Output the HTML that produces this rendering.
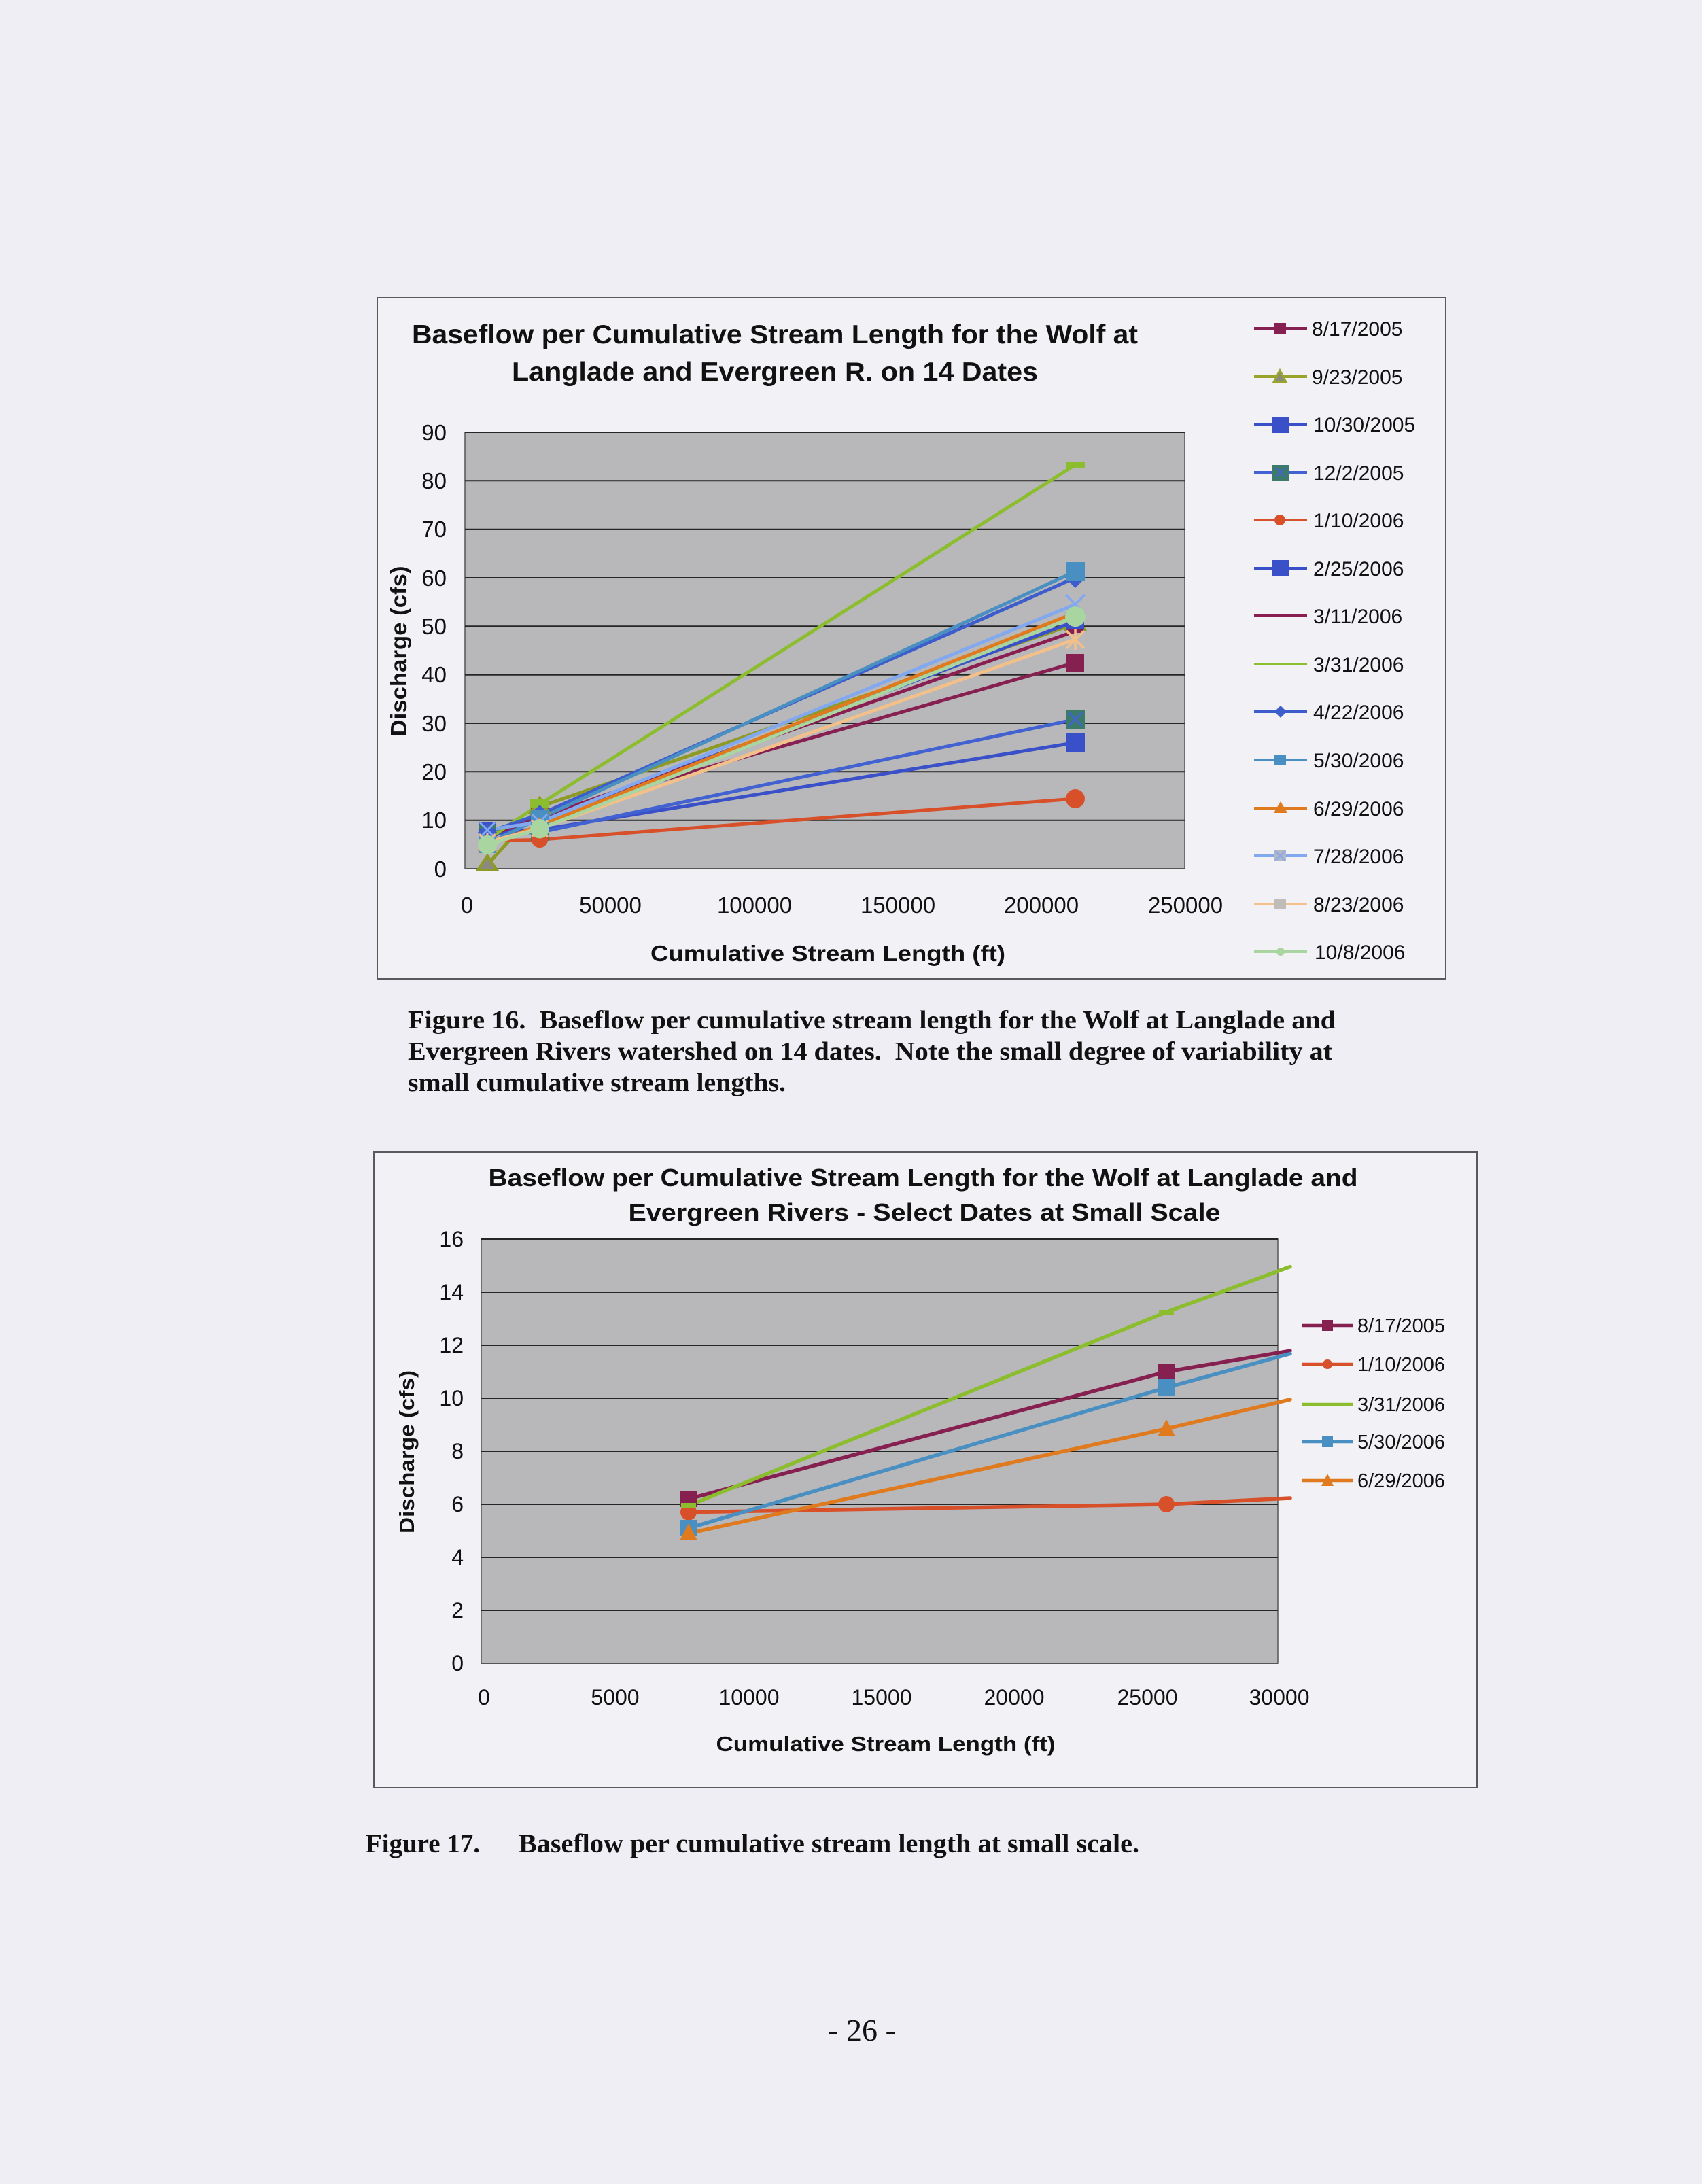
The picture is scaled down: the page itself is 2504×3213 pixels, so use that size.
<!DOCTYPE html>
<html>
<head>
<meta charset="utf-8">
<style>
html,body{margin:0;padding:0;background:#eeeef4;}
svg{display:block;}
.pre{white-space:pre;}
</style>
</head>
<body>
<svg xmlns="http://www.w3.org/2000/svg" width="2504" height="3213" viewBox="0 0 2504 3213">
<rect x="0" y="0" width="2504" height="3213" fill="#eeeef4"/>

<!-- ================= CHART 1 ================= -->
<rect x="555" y="438" width="1572" height="1002" fill="#f1f1f6" stroke="#5a5a5e" stroke-width="2"/>
<g font-family="'Liberation Sans', Arial, sans-serif" font-weight="bold" fill="#111">
  <text x="1140" y="505" font-size="39" text-anchor="middle" textLength="1068" lengthAdjust="spacingAndGlyphs">Baseflow per Cumulative Stream Length for the Wolf at</text>
  <text x="1140" y="560" font-size="39" text-anchor="middle" textLength="774" lengthAdjust="spacingAndGlyphs">Langlade and Evergreen R. on 14 Dates</text>
  <text x="1218" y="1414" font-size="33" text-anchor="middle" textLength="522" lengthAdjust="spacingAndGlyphs">Cumulative Stream Length (ft)</text>
  <text transform="translate(598,958) rotate(-90)" x="0" y="0" font-size="33" text-anchor="middle" textLength="251" lengthAdjust="spacingAndGlyphs">Discharge (cfs)</text>
</g>
<!-- plot area -->
<rect x="684" y="636" width="1059" height="642" fill="#b8b8bb" stroke="#555" stroke-width="1.5"/>
<g stroke="#262626" stroke-width="2">
  <line x1="684" y1="636" x2="1743" y2="636"/>
  <line x1="684" y1="707.3" x2="1743" y2="707.3"/>
  <line x1="684" y1="778.7" x2="1743" y2="778.7"/>
  <line x1="684" y1="850" x2="1743" y2="850"/>
  <line x1="684" y1="921.3" x2="1743" y2="921.3"/>
  <line x1="684" y1="992.7" x2="1743" y2="992.7"/>
  <line x1="684" y1="1064" x2="1743" y2="1064"/>
  <line x1="684" y1="1135.3" x2="1743" y2="1135.3"/>
  <line x1="684" y1="1206.7" x2="1743" y2="1206.7"/>
  <line x1="684" y1="1278" x2="1743" y2="1278" stroke="#555"/>
</g>
<!-- y tick labels -->
<g font-family="'Liberation Sans', Arial, sans-serif" font-size="33" fill="#111" text-anchor="end">
  <text x="657" y="648">90</text>
  <text x="657" y="719">80</text>
  <text x="657" y="790">70</text>
  <text x="657" y="862">60</text>
  <text x="657" y="933">50</text>
  <text x="657" y="1004">40</text>
  <text x="657" y="1076">30</text>
  <text x="657" y="1147">20</text>
  <text x="657" y="1218">10</text>
  <text x="657" y="1290">0</text>
</g>
<!-- x tick labels -->
<g font-family="'Liberation Sans', Arial, sans-serif" font-size="33" fill="#111" text-anchor="middle">
  <text x="687" y="1343">0</text>
  <text x="898" y="1343">50000</text>
  <text x="1110" y="1343">100000</text>
  <text x="1321" y="1343">150000</text>
  <text x="1532" y="1343">200000</text>
  <text x="1744" y="1343">250000</text>
</g>

<!-- series lines chart 1 -->
<g fill="none" stroke-width="5" stroke-linejoin="round" stroke-linecap="round">
  <polyline points="717,1233.8 794,1199.5 1582,974.8" stroke="#862050"/>
  <polyline points="717,1272.3 794,1186.7 1582,917.8" stroke="#8e9a26"/>
  <polyline points="717,1222.4 794,1220.9 1582,1092.5" stroke="#3a50c8"/>
  <polyline points="717,1225.9 794,1224.5 1582,1058.3" stroke="#4262d2"/>
  <polyline points="717,1237.3 794,1235.2 1582,1175.0" stroke="#d8502a"/>
  <polyline points="717,1231.6 794,1206.7 1582,914.2" stroke="#3a50c8"/>
  <polyline points="717,1229.5 794,1203.1 1582,928.5" stroke="#8a1e50"/>
  <polyline points="717,1235.2 794,1183.1 1582,683.8" stroke="#8cbd2e"/>
  <polyline points="717,1224.5 794,1198.1 1582,850.0" stroke="#3d5dcc"/>
  <polyline points="717,1241.6 794,1203.8 1582,840.7" stroke="#4a8fc2"/>
  <polyline points="717,1243.0 794,1214.5 1582,901.4" stroke="#e07a1e"/>
  <polyline points="717,1220.9 794,1209.5 1582,889.2" stroke="#82a8f0"/>
  <polyline points="717,1238.8 794,1218.8 1582,940.6" stroke="#f2c088"/>
  <polyline points="717,1243.0 794,1219.5 1582,907.1" stroke="#a9d5a0"/>
</g>
<!-- markers chart 1 -->
<g>
  <rect x="704" y="1221" width="26" height="26" fill="#862050"/>
  <rect x="781" y="1186" width="26" height="26" fill="#862050"/>
  <rect x="1569" y="962" width="26" height="26" fill="#862050"/>
  <polygon points="717,1259 731,1280 703,1280" fill="#8a8a80" stroke="#8e9a26" stroke-width="4"/>
  <polygon points="794,1174 808,1196 780,1196" fill="#8a8a80" stroke="#8e9a26" stroke-width="4"/>
  <polygon points="1582,905 1596,927 1568,927" fill="#8a8a80" stroke="#8e9a26" stroke-width="4"/>
  <rect x="704" y="1209" width="26" height="26" fill="#3a50c8"/>
  <rect x="781" y="1208" width="26" height="26" fill="#3a50c8"/>
  <rect x="1568" y="1078" width="28" height="28" fill="#3a50c8"/>
  <rect x="704" y="1213" width="26" height="26" fill="#3c7a6a"/>
  <rect x="781" y="1211" width="26" height="26" fill="#3c7a6a"/>
  <rect x="1568" y="1044" width="28" height="28" fill="#3c7a6a"/>
  <path d="M1572,1048 L1592,1068 M1592,1048 L1572,1068" stroke="#4262d2" stroke-width="3"/>
  <circle cx="717" cy="1237.3" r="12" fill="#d8502a"/>
  <circle cx="794" cy="1235.2" r="12" fill="#d8502a"/>
  <circle cx="1582" cy="1175" r="14" fill="#d8502a"/>
  <rect x="704" y="1219" width="26" height="26" fill="#3a50c8"/>
  <rect x="781" y="1194" width="26" height="26" fill="#3a50c8"/>
  <rect x="1569" y="901" width="26" height="26" fill="#3a50c8"/>
  <rect x="705" y="1227" width="24" height="5" fill="#8a1e50"/>
  <rect x="782" y="1200" width="24" height="5" fill="#8a1e50"/>
  <rect x="1570" y="926" width="24" height="5" fill="#8a1e50"/>
  <rect x="705" y="1231" width="24" height="8" fill="#8cbd2e"/>
  <rect x="780" y="1175" width="28" height="14" fill="#8cbd2e"/>
  <rect x="1568" y="680" width="28" height="8" fill="#8cbd2e"/>
  <polygon points="717,1211 731,1224.5 717,1238 703,1224.5" fill="#3d5dcc"/>
  <polygon points="794,1184 808,1198 794,1212 780,1198" fill="#3d5dcc"/>
  <polygon points="1582,836 1597,850 1582,865 1567,850" fill="#3d5dcc"/>
  <rect x="704" y="1229" width="26" height="26" fill="#4a8fc2"/>
  <rect x="781" y="1191" width="26" height="26" fill="#4a8fc2"/>
  <rect x="1568" y="827" width="28" height="28" fill="#4a8fc2"/>
  <polygon points="717,1230 731,1252 703,1252" fill="#e07a1e"/>
  <polygon points="794,1202 808,1224 780,1224" fill="#e07a1e"/>
  <polygon points="1582,888 1596,910 1568,910" fill="#e07a1e"/>
  <path d="M706,1210 L728,1232 M728,1210 L706,1232" stroke="#82a8f0" stroke-width="3"/>
  <path d="M783,1198 L805,1220 M805,1198 L783,1220" stroke="#82a8f0" stroke-width="3"/>
  <path d="M1568,875 L1596,903 M1596,875 L1568,903" stroke="#82a8f0" stroke-width="3.5"/>
  <path d="M705,1227 L729,1251 M729,1227 L705,1251 M717,1225 L717,1253" stroke="#f2c088" stroke-width="3"/>
  <path d="M782,1207 L806,1231 M806,1207 L782,1231 M794,1205 L794,1233" stroke="#f2c088" stroke-width="3"/>
  <path d="M1569,928 L1595,954 M1595,928 L1569,954 M1582,925 L1582,956" stroke="#f2c088" stroke-width="3.5"/>
  <circle cx="717" cy="1243" r="14" fill="#a9d5a0"/>
  <circle cx="794" cy="1219.5" r="14" fill="#a9d5a0"/>
  <circle cx="1582" cy="907.1" r="15" fill="#a9d5a0"/>
</g>

<!-- legend chart 1 -->
<g font-family="'Liberation Sans', Arial, sans-serif" font-size="30" fill="#111">
  <line x1="1845" y1="483" x2="1923" y2="483" stroke="#862050" stroke-width="4"/>
  <rect x="1875" y="475" width="17" height="16" fill="#862050"/>
  <text x="1930" y="494">8/17/2005</text>

  <line x1="1845" y1="554" x2="1923" y2="554" stroke="#9aa32a" stroke-width="4"/>
  <polygon points="1883,545 1892,562 1874,562" fill="#8a8a80" stroke="#9aa32a" stroke-width="3"/>
  <text x="1930" y="565">9/23/2005</text>

  <line x1="1845" y1="624" x2="1923" y2="624" stroke="#3a50c8" stroke-width="4"/>
  <rect x="1872" y="613" width="25" height="24" fill="#3a50c8"/>
  <text x="1932" y="635">10/30/2005</text>

  <line x1="1845" y1="695" x2="1923" y2="695" stroke="#4262d2" stroke-width="4"/>
  <rect x="1872" y="684" width="25" height="24" fill="#3c7a6a"/>
  <path d="M1877,688 L1891,702 M1891,688 L1877,702" stroke="#4262d2" stroke-width="2"/>
  <text x="1932" y="706">12/2/2005</text>

  <line x1="1845" y1="765" x2="1923" y2="765" stroke="#d8502a" stroke-width="4"/>
  <circle cx="1883" cy="765" r="8" fill="#d8502a"/>
  <text x="1932" y="776">1/10/2006</text>

  <line x1="1845" y1="836" x2="1923" y2="836" stroke="#3a50c8" stroke-width="4"/>
  <rect x="1872" y="824" width="25" height="24" fill="#3a50c8"/>
  <text x="1932" y="847">2/25/2006</text>

  <line x1="1845" y1="906" x2="1923" y2="906" stroke="#8a1e50" stroke-width="4"/>
  <text x="1932" y="917">3/11/2006</text>

  <line x1="1845" y1="977" x2="1923" y2="977" stroke="#8cbd2e" stroke-width="4"/>
  <text x="1932" y="988">3/31/2006</text>

  <line x1="1845" y1="1047" x2="1923" y2="1047" stroke="#3d5dcc" stroke-width="4"/>
  <polygon points="1884,1038 1893,1047 1884,1056 1875,1047" fill="#3d5dcc"/>
  <text x="1932" y="1058">4/22/2006</text>

  <line x1="1845" y1="1118" x2="1923" y2="1118" stroke="#4a8fc2" stroke-width="4"/>
  <rect x="1875" y="1110" width="17" height="16" fill="#4a8fc2"/>
  <text x="1932" y="1129">5/30/2006</text>

  <line x1="1845" y1="1189" x2="1923" y2="1189" stroke="#e07a1e" stroke-width="4"/>
  <polygon points="1884,1179 1894,1196 1874,1196" fill="#e07a1e"/>
  <text x="1932" y="1200">6/29/2006</text>

  <line x1="1845" y1="1259" x2="1923" y2="1259" stroke="#82a8f0" stroke-width="4"/>
  <rect x="1875" y="1251" width="17" height="16" fill="#b4b8c4"/>
  <path d="M1876,1252 L1891,1266 M1891,1252 L1876,1266" stroke="#82a8f0" stroke-width="2"/>
  <text x="1932" y="1270">7/28/2006</text>

  <line x1="1845" y1="1330" x2="1923" y2="1330" stroke="#f2c088" stroke-width="4"/>
  <rect x="1875" y="1322" width="17" height="16" fill="#c0bcb8"/>
  <text x="1932" y="1341">8/23/2006</text>

  <line x1="1845" y1="1400" x2="1923" y2="1400" stroke="#a9d5a0" stroke-width="4"/>
  <circle cx="1884" cy="1400" r="6" fill="#a9d5a0"/>
  <text x="1934" y="1411">10/8/2006</text>
</g>

<!-- caption fig 16 -->
<g font-family="'Liberation Serif', 'Times New Roman', serif" font-weight="bold" font-size="38" fill="#111">
  <text class="pre" x="600" y="1513" textLength="1365" lengthAdjust="spacingAndGlyphs">Figure 16.  Baseflow per cumulative stream length for the Wolf at Langlade and</text>
  <text class="pre" x="600" y="1559" textLength="1360" lengthAdjust="spacingAndGlyphs">Evergreen Rivers watershed on 14 dates.  Note the small degree of variability at</text>
  <text x="600" y="1605" textLength="556" lengthAdjust="spacingAndGlyphs">small cumulative stream lengths.</text>
</g>

<!-- ================= CHART 2 ================= -->
<rect x="550" y="1695" width="1623" height="935" fill="#f1f1f6" stroke="#5a5a5e" stroke-width="2"/>
<g font-family="'Liberation Sans', Arial, sans-serif" font-weight="bold" fill="#111">
  <text x="1358" y="1745" font-size="36" text-anchor="middle" textLength="1279" lengthAdjust="spacingAndGlyphs">Baseflow per Cumulative Stream Length for the Wolf at Langlade and</text>
  <text x="1360" y="1796" font-size="36" text-anchor="middle" textLength="871" lengthAdjust="spacingAndGlyphs">Evergreen Rivers - Select Dates at Small Scale</text>
  <text x="1303" y="2576" font-size="31" text-anchor="middle" textLength="499" lengthAdjust="spacingAndGlyphs">Cumulative Stream Length (ft)</text>
  <text transform="translate(609,2136) rotate(-90)" x="0" y="0" font-size="31" text-anchor="middle" textLength="240" lengthAdjust="spacingAndGlyphs">Discharge (cfs)</text>
</g>
<rect x="708" y="1823" width="1172" height="624" fill="#b8b8bb" stroke="#555" stroke-width="1.5"/>
<g stroke="#262626" stroke-width="2">
  <line x1="708" y1="1823" x2="1880" y2="1823"/>
  <line x1="708" y1="1901" x2="1880" y2="1901"/>
  <line x1="708" y1="1979" x2="1880" y2="1979"/>
  <line x1="708" y1="2057" x2="1880" y2="2057"/>
  <line x1="708" y1="2135" x2="1880" y2="2135"/>
  <line x1="708" y1="2213" x2="1880" y2="2213"/>
  <line x1="708" y1="2291" x2="1880" y2="2291"/>
  <line x1="708" y1="2369" x2="1880" y2="2369"/>
  <line x1="708" y1="2447" x2="1880" y2="2447" stroke="#555"/>
</g>
<g font-family="'Liberation Sans', Arial, sans-serif" font-size="32" fill="#111" text-anchor="end">
  <text x="682" y="1834">16</text>
  <text x="682" y="1912">14</text>
  <text x="682" y="1990">12</text>
  <text x="682" y="2068">10</text>
  <text x="682" y="2146">8</text>
  <text x="682" y="2224">6</text>
  <text x="682" y="2302">4</text>
  <text x="682" y="2380">2</text>
  <text x="682" y="2458">0</text>
</g>
<g font-family="'Liberation Sans', Arial, sans-serif" font-size="32" fill="#111" text-anchor="middle">
  <text x="712" y="2508">0</text>
  <text x="905" y="2508">5000</text>
  <text x="1102" y="2508">10000</text>
  <text x="1297" y="2508">15000</text>
  <text x="1492" y="2508">20000</text>
  <text x="1688" y="2508">25000</text>
  <text x="1882" y="2508">30000</text>
</g>
<g fill="none" stroke-width="5.5" stroke-linejoin="round" stroke-linecap="round">
  <polyline points="1013,2205.2 1716,2018 1898,1987.2" stroke="#862050"/>
  <polyline points="1013,2224.7 1716,2213 1898,2204" stroke="#d8502a"/>
  <polyline points="1013,2214.9 1716,1930.3 1898,1863.6" stroke="#8cbd2e"/>
  <polyline points="1013,2248.1 1716,2041.4 1898,1991.5" stroke="#4a8fc2"/>
  <polyline points="1013,2255.9 1716,2101.9 1898,2058.9" stroke="#e07a1e"/>
</g>
<g>
  <rect x="1001" y="2193" width="24" height="24" fill="#862050"/>
  <rect x="1704" y="2006" width="24" height="24" fill="#862050"/>
  <circle cx="1013" cy="2224.7" r="12" fill="#d8502a"/>
  <circle cx="1716" cy="2213" r="12" fill="#d8502a"/>
  <rect x="1002" y="2211" width="22" height="7" fill="#8cbd2e"/>
  <rect x="1705" y="1927" width="22" height="7" fill="#8cbd2e"/>
  <rect x="1001" y="2236" width="24" height="24" fill="#4a8fc2"/>
  <rect x="1704" y="2029" width="24" height="24" fill="#4a8fc2"/>
  <polygon points="1013,2241 1026,2266 1000,2266" fill="#e07a1e"/>
  <polygon points="1716,2088 1729,2113 1703,2113" fill="#e07a1e"/>
</g>
<g font-family="'Liberation Sans', Arial, sans-serif" font-size="29" fill="#111">
  <line x1="1915" y1="1950" x2="1990" y2="1950" stroke="#862050" stroke-width="4.5"/>
  <rect x="1945" y="1942" width="16" height="16" fill="#862050"/>
  <text x="1997" y="1960">8/17/2005</text>

  <line x1="1915" y1="2007" x2="1990" y2="2007" stroke="#d8502a" stroke-width="4.5"/>
  <circle cx="1953" cy="2007" r="7" fill="#d8502a"/>
  <text x="1997" y="2017">1/10/2006</text>

  <line x1="1915" y1="2066" x2="1990" y2="2066" stroke="#8cbd2e" stroke-width="4.5"/>
  <text x="1997" y="2076">3/31/2006</text>

  <line x1="1915" y1="2121" x2="1990" y2="2121" stroke="#4a8fc2" stroke-width="4.5"/>
  <rect x="1945" y="2113" width="16" height="16" fill="#4a8fc2"/>
  <text x="1997" y="2131">5/30/2006</text>

  <line x1="1915" y1="2178" x2="1990" y2="2178" stroke="#e07a1e" stroke-width="4.5"/>
  <polygon points="1953,2168 1962,2186 1944,2186" fill="#e07a1e"/>
  <text x="1997" y="2188">6/29/2006</text>
</g>

<!-- caption fig 17 -->
<g font-family="'Liberation Serif', 'Times New Roman', serif" font-weight="bold" font-size="39" fill="#111">
  <text x="538" y="2725" textLength="168" lengthAdjust="spacingAndGlyphs">Figure 17.</text>
  <text x="763" y="2725" textLength="913" lengthAdjust="spacingAndGlyphs">Baseflow per cumulative stream length at small scale.</text>
</g>

<!-- page number -->
<text x="1268" y="3002" font-family="'Liberation Serif', 'Times New Roman', serif" font-size="46" fill="#111" text-anchor="middle">- 26 -</text>
</svg>
</body>
</html>
